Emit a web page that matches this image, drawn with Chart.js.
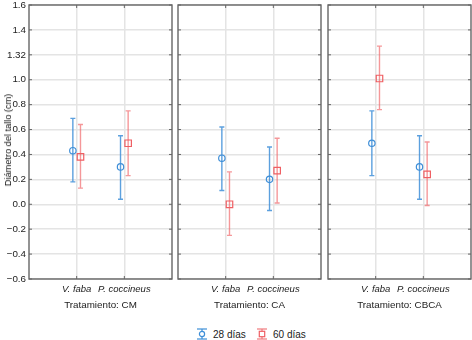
<!DOCTYPE html>
<html><head><meta charset="utf-8">
<script src="https://cdn.jsdelivr.net/npm/chart.js@4"></script>
<style>
body{margin:0;background:#fff;width:472px;height:340px;position:relative;overflow:hidden;font-family:"Liberation Sans",Arial,sans-serif;color:#222}
canvas{position:absolute;top:0}
.t{position:absolute;font-size:9.8px;white-space:nowrap;transform:translate(-50%,-50%)}
.yt{position:absolute;left:8px;top:140px;font-size:9.2px;color:#111;white-space:nowrap;transform:translate(-50%,-50%) rotate(-90deg)}
.leg{position:absolute;top:334px;font-size:10px;display:flex;align-items:center;transform:translateY(-50%)}
.leg svg{margin-right:5px}
</style></head>
<body>
<canvas id="c0" width="174" height="300" style="left:0"></canvas>
<canvas id="c1" width="147" height="300" style="left:176px"></canvas>
<canvas id="c2" width="146" height="300" style="left:326px"></canvas>
<div class="yt">Diámetro del tallo (cm)</div>
<div class="t" id="p0" style="left:100.5px;top:304px"></div>
<div class="t" id="p1" style="left:249.5px;top:304px"></div>
<div class="t" id="p2" style="left:399.5px;top:304px"></div>
<div class="leg" style="left:196px"><svg width="12" height="12"><line x1="1" y1="1" x2="11" y2="1" stroke="#3f8fd8" stroke-width="1.2"/><line x1="1" y1="11" x2="11" y2="11" stroke="#3f8fd8" stroke-width="1.2"/><line x1="6" y1="1" x2="6" y2="11" stroke="#3f8fd8" stroke-width="1.2"/><circle cx="6" cy="6" r="2.6" fill="#fff" stroke="#3f8fd8" stroke-width="1.2"/></svg><span id="l0"></span></div>
<div class="leg" style="left:256px"><svg width="12" height="12"><line x1="1" y1="1" x2="11" y2="1" stroke="#f07a7e" stroke-width="1.2"/><line x1="1" y1="11" x2="11" y2="11" stroke="#f07a7e" stroke-width="1.2"/><line x1="6" y1="1" x2="6" y2="11" stroke="#f07a7e" stroke-width="1.2"/><rect x="3.3" y="3.3" width="5.4" height="5.4" fill="#fff" stroke="#ef5f63" stroke-width="1.2"/></svg><span id="l1"></span></div>
<script>
// ---- data ----
const categories = ["V. faba", "P. coccineus"];
const categoryX = [1, 2];
const panels = ["Tratamiento: CM", "Tratamiento: CA", "Tratamiento: CBCA"];
const seriesNames = ["28 días", "60 días"];
const yTickValues = [-0.6, -0.4, -0.2, 0.0, 0.2, 0.4, 0.6, 0.8, 1.0, 1.2, 1.4, 1.6];
const yTickLabels = ["−0.6", "−0.4", "−0.2", "0.0", "0.2", "0.4", "0.6", "0.8", "1.0", "1.32", "1.4", "1.6"];
// per panel (CM, CA, CBCA), per category (V. faba, P. coccineus)
const mean28 = [[0.43, 0.30], [0.37, 0.20], [0.49, 0.30]];
const low28  = [[0.18, 0.04], [0.11, -0.05], [0.23, 0.04]];
const high28 = [[0.69, 0.55], [0.62, 0.46], [0.75, 0.55]];
const mean60 = [[0.38, 0.49], [0.00, 0.27], [1.01, 0.24]];
const low60  = [[0.13, 0.23], [-0.25, 0.01], [0.76, -0.01]];
const high60 = [[0.64, 0.75], [0.26, 0.53], [1.27, 0.50]];

const BLUE = "#3f8fd8", RED = "#ef5f63";
const BLUE_L = "rgba(63,143,216,0.85)", RED_L = "rgba(239,95,99,0.65)";
const DODGE = 0.08;

document.getElementById("l0").textContent = seriesNames[0];
document.getElementById("l1").textContent = seriesNames[1];
panels.forEach((p, i) => document.getElementById("p" + i).textContent = p);

const errPlugin = {
  id: "err",
  beforeDatasetsDraw(chart) {
    const ctx = chart.ctx, ys = chart.scales.y;
    chart.data.datasets.forEach((ds, di) => {
      const meta = chart.getDatasetMeta(di);
      ctx.save();
      ctx.strokeStyle = ds.lineColor; ctx.lineWidth = 1.4;
      meta.data.forEach((el, j) => {
        const yl = ys.getPixelForValue(ds.errLow[j]);
        const yh = ys.getPixelForValue(ds.errHigh[j]);
        ctx.beginPath();
        ctx.moveTo(el.x, yl); ctx.lineTo(el.x, yh);
        ctx.moveTo(el.x - 2.5, yl); ctx.lineTo(el.x + 2.5, yl);
        ctx.moveTo(el.x - 2.5, yh); ctx.lineTo(el.x + 2.5, yh);
        ctx.stroke();
      });
      ctx.restore();
    });
  }
};
const framePlugin = {
  id: "frame",
  afterDraw(chart) {
    const ctx = chart.ctx, a = chart.chartArea, xs = chart.scales.x, ys = chart.scales.y;
    ctx.save();
    ctx.strokeStyle = "#666"; ctx.lineWidth = 1.4;
    ctx.strokeRect(a.left, a.top, a.right - a.left, a.bottom - a.top);
    ctx.lineWidth = 1;
    ctx.beginPath();
    yTickValues.forEach(v => {
      const y = ys.getPixelForValue(v);
      ctx.moveTo(a.left, y); ctx.lineTo(a.left + 3, y);
      ctx.moveTo(a.right, y); ctx.lineTo(a.right - 3, y);
    });
    categoryX.forEach(v => {
      const x = xs.getPixelForValue(v);
      ctx.moveTo(x, a.top); ctx.lineTo(x, a.top + 3);
      ctx.moveTo(x, a.bottom); ctx.lineTo(x, a.bottom - 3);
    });
    ctx.stroke();
    ctx.restore();
  }
};

function makeChart(id, pi, pad, yWidth, showY) {
  new Chart(document.getElementById(id), {
    type: "scatter",
    data: {
      datasets: [
        { label: seriesNames[0], data: categoryX.map((x, j) => ({ x: x - DODGE, y: mean28[pi][j] })),
          errLow: low28[pi], errHigh: high28[pi], lineColor: BLUE_L,
          pointStyle: "circle", radius: 3.2, borderColor: BLUE, backgroundColor: "rgba(255,255,255,0)", borderWidth: 1.2 },
        { label: seriesNames[1], data: categoryX.map((x, j) => ({ x: x + DODGE, y: mean60[pi][j] })),
          errLow: low60[pi], errHigh: high60[pi], lineColor: RED_L,
          pointStyle: "rect", radius: 4.6, borderColor: RED, backgroundColor: "rgba(255,255,255,0)", borderWidth: 1.2 }
      ]
    },
    options: {
      responsive: false, animation: false, devicePixelRatio: 1,
      layout: { autoPadding: false, padding: { top: 5, left: pad[0], right: pad[1], bottom: 0 } },
      plugins: { legend: { display: false }, tooltip: { enabled: false } },
      scales: {
        x: {
          type: "linear", min: 0, max: 3,
          afterBuildTicks: s => { s.ticks = categoryX.map(v => ({ value: v })); },
          afterFit: s => { s.height = 21; s.paddingLeft = 0; s.paddingRight = 0; },
          ticks: { callback: (v, i) => categories[i], font: { family: "Liberation Sans", size: 9.5, style: "italic" }, color: "#222", padding: 5, maxRotation: 0 },
          grid: { color: "#e4e4e4", lineWidth: 1.5, drawTicks: false },
          border: { display: false }
        },
        y: {
          type: "linear", min: -0.6, max: 1.6,
          afterBuildTicks: s => { s.ticks = yTickValues.map(v => ({ value: v })); },
          afterFit: s => { s.width = yWidth; s.paddingTop = 0; s.paddingBottom = 0; },
          ticks: { display: showY, callback: (v, i) => yTickLabels[i], font: { family: "Liberation Sans", size: 9.8 }, color: "#222", padding: 3 },
          grid: { color: "#e4e4e4", lineWidth: 1.5, drawTicks: false },
          border: { display: false }
        }
      }
    },
    plugins: [errPlugin, framePlugin]
  });
}
makeChart("c0", 0, [0, 2], 29, true);
makeChart("c1", 1, [2, 2], 0, false);
makeChart("c2", 2, [2, 1], 0, false);
</script>
</body></html>
